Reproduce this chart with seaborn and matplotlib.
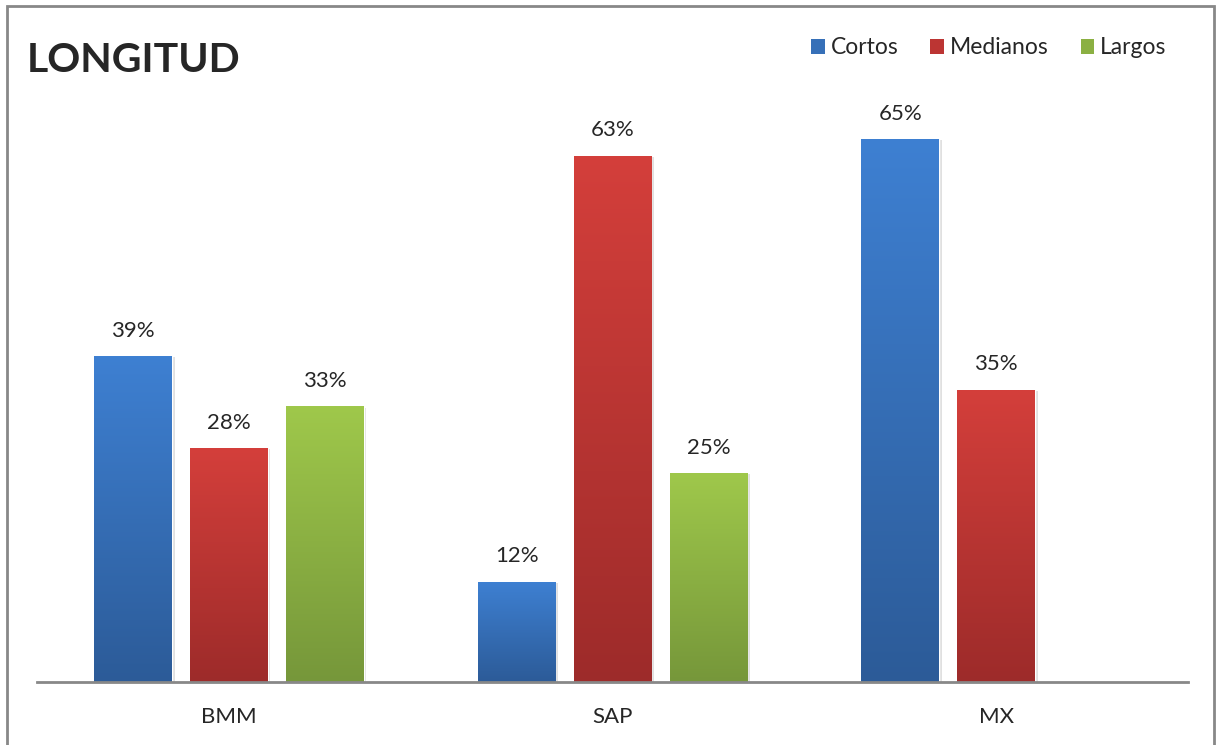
import numpy as np
import pandas as pd
import seaborn as sns
import matplotlib.pyplot as plt
from matplotlib.colors import LinearSegmentedColormap
from matplotlib.patches import Rectangle, Patch
import matplotlib.patheffects as pe

sistemas = ["BMM", "SAP", "MX"]
longitudes = ["Cortos", "Medianos", "Largos"]
cortos = [39, 12, 65]
medianos = [28, 63, 35]
largos = [33, 25, None]  # MX sin largos

# top / bottom colours of the gradient per series
top_colors = ["#3e80d2", "#d43f3b", "#9fc84b"]
bottom_colors = ["#2c5b98", "#9d2b2a", "#76973a"]
mid_colors = ["#3670b8", "#bc3533", "#8bb042"]

rows = []
for i, s in enumerate(sistemas):
    for name, vals in zip(longitudes, [cortos, medianos, largos]):
        if vals[i] is not None:
            rows.append({"Sistema": s, "Longitud": name, "Pct": vals[i]})
df = pd.DataFrame(rows)

sns.set_style("white")
plt.rcParams["font.family"] = ["Lato", "DejaVu Sans"]

fig = plt.figure(figsize=(12.18, 7.45), dpi=100)
ax = fig.add_axes([37 / 1218, 63 / 745, 1151 / 1218, 585 / 745])

sns.barplot(
    data=df,
    x="Sistema",
    y="Pct",
    hue="Longitud",
    order=sistemas,
    hue_order=longitudes,
    palette=mid_colors,
    width=0.75,
    gap=0.19,
    errorbar=None,
    legend=False,
    ax=ax,
)

# gradient fill on every bar
grad = np.linspace(0, 1, 256).reshape(-1, 1)
for k, container in enumerate(ax.containers):
    cmap = LinearSegmentedColormap.from_list("g", [bottom_colors[k], top_colors[k]])
    for bar in container:
        h = bar.get_height()
        if not np.isfinite(h) or h == 0:
            continue
        x0 = bar.get_x()
        w = bar.get_width()
        bar.set_path_effects([pe.SimplePatchShadow(offset=(2, -1), alpha=0.12, shadow_rgbFace="black"), pe.Normal()])
        im = ax.imshow(grad, cmap=cmap, aspect="auto", origin="lower",
                       extent=[x0, x0 + w, 0, h], zorder=bar.get_zorder() + 0.1)
        im.set_clip_path(bar)
    ax.bar_label(container, fmt="%d%%", padding=11, fontsize=16)

ax.set_xlim(-0.5, 2.5)
ax.set_ylim(0, 70)

for side in ["top", "left", "right"]:
    ax.spines[side].set_visible(False)
ax.spines["bottom"].set_color("#888888")
ax.spines["bottom"].set_linewidth(2)
ax.set_yticks([])
ax.set_xlabel("")
ax.set_ylabel("")
ax.tick_params(axis="x", length=0, labelsize=16, pad=18)

fig.text(27 / 1218, 1 - 60 / 745, "LONGITUD", fontsize=29.5, fontweight="bold",
         va="center", ha="left")

handles = [Patch(facecolor=c, edgecolor="none") for c in mid_colors]
fig.legend(handles, longitudes, loc="center right",
           bbox_to_anchor=(1178 / 1218, 1 - 48 / 745), ncol=3, frameon=False,
           fontsize=16.5, handlelength=0.6, handleheight=0.6, handletextpad=0.25,
           columnspacing=1.4, borderpad=0)

fig.add_artist(Rectangle((7 / 1218, -0.02), 1207 / 1218, (745 - 6) / 745 + 0.02,
                         transform=fig.transFigure, fill=False,
                         edgecolor="#888888", linewidth=2))

plt.savefig("out.png", dpi=100)
